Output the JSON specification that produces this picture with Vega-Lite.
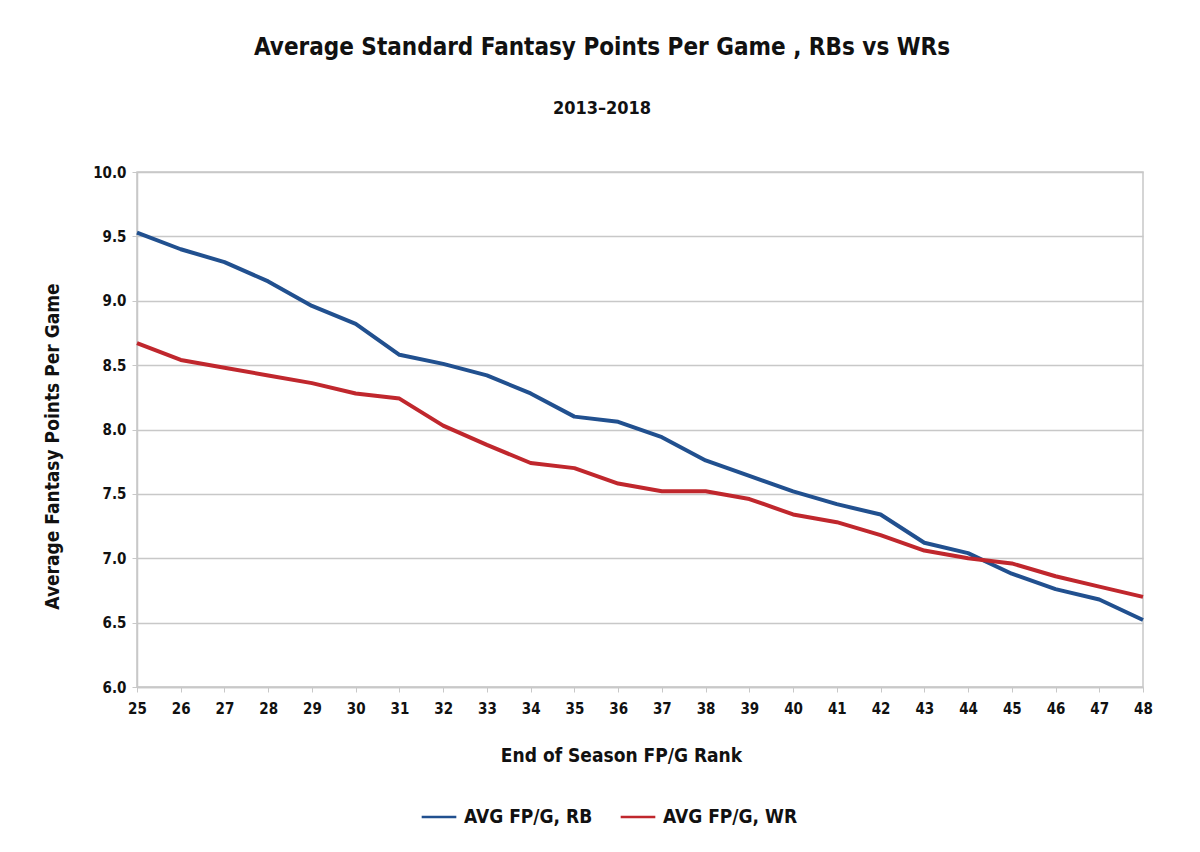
{
  "$schema": "https://vega.github.io/schema/vega-lite/v6.json",
  "autosize": {"type": "none"},
  "width": 1006,
  "height": 515,
  "padding": {"left": 137, "top": 172, "right": 57, "bottom": 165},
  "background": "white",
  "title": {
    "text": "Average Standard Fantasy Points Per Game , RBs vs WRs",
    "subtitle": "2013–2018",
    "anchor": "middle",
    "dx": -38,
    "offset": 47,
    "font": "DejaVu Sans Condensed",
    "fontSize": 24,
    "fontWeight": "bold",
    "color": "#111111",
    "subtitleFont": "DejaVu Sans Condensed",
    "subtitleFontSize": 18,
    "subtitleFontWeight": "bold",
    "subtitleColor": "#111111",
    "subtitlePadding": 40
  },
  "config": {
    "view": {"stroke": "#c8c8c8", "strokeWidth": 1.5},
    "font": "DejaVu Sans Condensed",
    "axis": {
      "labelFont": "DejaVu Sans Condensed",
      "labelFontSize": 15,
      "labelFontWeight": "bold",
      "labelColor": "#111111",
      "titleFont": "DejaVu Sans Condensed",
      "titleFontSize": 19,
      "titleFontWeight": "bold",
      "titleColor": "#111111",
      "gridColor": "#c8c8c8",
      "gridWidth": 1.5,
      "domainColor": "#c8c8c8",
      "domainWidth": 1.5,
      "tickColor": "#c8c8c8",
      "tickSize": 5
    },
    "legend": {
      "labelFont": "DejaVu Sans Condensed",
      "labelFontSize": 19,
      "labelFontWeight": "bold",
      "labelColor": "#111111"
    }
  },
  "data": {
    "values": [
      {"rank": 25, "series": "AVG FP/G, RB", "value": 9.53},
      {"rank": 26, "series": "AVG FP/G, RB", "value": 9.40},
      {"rank": 27, "series": "AVG FP/G, RB", "value": 9.30},
      {"rank": 28, "series": "AVG FP/G, RB", "value": 9.15},
      {"rank": 29, "series": "AVG FP/G, RB", "value": 8.96},
      {"rank": 30, "series": "AVG FP/G, RB", "value": 8.82},
      {"rank": 31, "series": "AVG FP/G, RB", "value": 8.58},
      {"rank": 32, "series": "AVG FP/G, RB", "value": 8.51},
      {"rank": 33, "series": "AVG FP/G, RB", "value": 8.42},
      {"rank": 34, "series": "AVG FP/G, RB", "value": 8.28},
      {"rank": 35, "series": "AVG FP/G, RB", "value": 8.10},
      {"rank": 36, "series": "AVG FP/G, RB", "value": 8.06},
      {"rank": 37, "series": "AVG FP/G, RB", "value": 7.94},
      {"rank": 38, "series": "AVG FP/G, RB", "value": 7.76},
      {"rank": 39, "series": "AVG FP/G, RB", "value": 7.64},
      {"rank": 40, "series": "AVG FP/G, RB", "value": 7.52},
      {"rank": 41, "series": "AVG FP/G, RB", "value": 7.42},
      {"rank": 42, "series": "AVG FP/G, RB", "value": 7.34},
      {"rank": 43, "series": "AVG FP/G, RB", "value": 7.12},
      {"rank": 44, "series": "AVG FP/G, RB", "value": 7.04},
      {"rank": 45, "series": "AVG FP/G, RB", "value": 6.88},
      {"rank": 46, "series": "AVG FP/G, RB", "value": 6.76},
      {"rank": 47, "series": "AVG FP/G, RB", "value": 6.68},
      {"rank": 48, "series": "AVG FP/G, RB", "value": 6.52},
      {"rank": 25, "series": "AVG FP/G, WR", "value": 8.67},
      {"rank": 26, "series": "AVG FP/G, WR", "value": 8.54},
      {"rank": 27, "series": "AVG FP/G, WR", "value": 8.48},
      {"rank": 28, "series": "AVG FP/G, WR", "value": 8.42},
      {"rank": 29, "series": "AVG FP/G, WR", "value": 8.36},
      {"rank": 30, "series": "AVG FP/G, WR", "value": 8.28},
      {"rank": 31, "series": "AVG FP/G, WR", "value": 8.24},
      {"rank": 32, "series": "AVG FP/G, WR", "value": 8.03},
      {"rank": 33, "series": "AVG FP/G, WR", "value": 7.88},
      {"rank": 34, "series": "AVG FP/G, WR", "value": 7.74},
      {"rank": 35, "series": "AVG FP/G, WR", "value": 7.70},
      {"rank": 36, "series": "AVG FP/G, WR", "value": 7.58},
      {"rank": 37, "series": "AVG FP/G, WR", "value": 7.52},
      {"rank": 38, "series": "AVG FP/G, WR", "value": 7.52},
      {"rank": 39, "series": "AVG FP/G, WR", "value": 7.46},
      {"rank": 40, "series": "AVG FP/G, WR", "value": 7.34},
      {"rank": 41, "series": "AVG FP/G, WR", "value": 7.28},
      {"rank": 42, "series": "AVG FP/G, WR", "value": 7.18},
      {"rank": 43, "series": "AVG FP/G, WR", "value": 7.06},
      {"rank": 44, "series": "AVG FP/G, WR", "value": 7.00},
      {"rank": 45, "series": "AVG FP/G, WR", "value": 6.96},
      {"rank": 46, "series": "AVG FP/G, WR", "value": 6.86},
      {"rank": 47, "series": "AVG FP/G, WR", "value": 6.78},
      {"rank": 48, "series": "AVG FP/G, WR", "value": 6.70}
    ]
  },
  "mark": {"type": "line", "strokeWidth": 4, "strokeJoin": "round"},
  "encoding": {
    "x": {
      "field": "rank",
      "type": "quantitative",
      "scale": {"domain": [25, 48], "nice": false, "zero": false},
      "axis": {
        "title": "End of Season FP/G Rank",
        "values": [25,26,27,28,29,30,31,32,33,34,35,36,37,38,39,40,41,42,43,44,45,46,47,48],
        "format": "d",
        "grid": false,
        "labelFlush": false,
        "labelBound": false,
        "labelOverlap": false,
        "labelPadding": 9,
        "titlePadding": 30,
        "titleX": 484
      }
    },
    "y": {
      "field": "value",
      "type": "quantitative",
      "scale": {"domain": [6, 10], "nice": false, "zero": false},
      "axis": {
        "title": "Average Fantasy Points Per Game",
        "values": [6, 6.5, 7, 7.5, 8, 8.5, 9, 9.5, 10],
        "format": ".1f",
        "labelFlush": false,
        "labelOverlap": false,
        "labelPadding": 6,
        "titlePadding": 30,
        "titleY": 274
      }
    },
    "color": {
      "field": "series",
      "type": "nominal",
      "scale": {"domain": ["AVG FP/G, RB", "AVG FP/G, WR"], "range": ["#21508f", "#c0272d"]},
      "legend": {
        "title": null,
        "orient": "none",
        "direction": "horizontal",
        "legendX": 283,
        "legendY": 626,
        "symbolType": "stroke",
        "symbolStrokeWidth": 2.5,
        "symbolSize": 1200,
        "labelOffset": 6,
        "columnPadding": 22
      }
    }
  }
}
